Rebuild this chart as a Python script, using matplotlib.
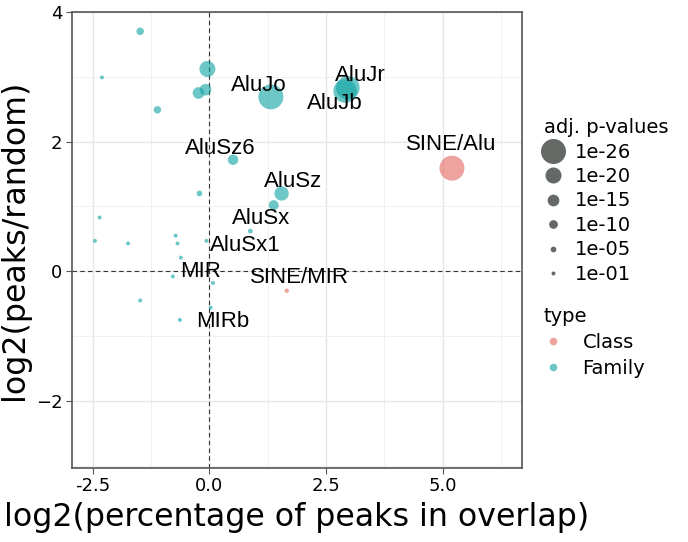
import matplotlib

matplotlib.use("Agg")
import matplotlib.pyplot as plt
import numpy as np
from matplotlib.lines import Line2D

# repeat elements: x = log2(% peaks in overlap), y = log2(peaks/random)
names = ["SINE/Alu", "SINE/MIR", "AluJo", "AluJr", "AluJb", "AluSz6", "AluSz",
         "AluSx", "AluSx1", "MIR", "MIRb",
         "", "", "", "", "", "", "", "", "", "", "", "", "", "", "", "", ""]
xs = [5.20, 1.66, 1.32, 2.97, 2.91, 0.51, 1.55, 1.38, 0.88, -0.78, -0.63,
      -1.48, -2.30, -0.04, -0.08, -0.23, -1.11, -0.21, -2.35, -2.45, -1.74,
      -0.72, -0.68, -0.06, -0.61, 0.08, -1.48, 0.03]
ys = [1.59, -0.30, 2.69, 2.83, 2.78, 1.72, 1.20, 1.02, 0.62, -0.08, -0.75,
      3.70, 2.99, 3.12, 2.80, 2.75, 2.49, 1.20, 0.83, 0.47, 0.43,
      0.55, 0.43, 0.47, 0.21, -0.18, -0.45, -0.56]
neglog_p = [26, 2, 27, 25, 25, 13, 18, 12, 3, 1, 1,
            8, 1, 20, 15, 15, 8, 5, 1, 1, 1,
            1, 1, 1, 1, 1, 1, 1]
types = ["Class", "Class"] + ["Family"] * 26

# label text centres (repelled positions)
label_pos = {
    "SINE/Alu": (5.18, 1.96), "SINE/MIR": (1.93, -0.10), "AluJo": (1.05, 2.86),
    "AluJr": (3.24, 3.02), "AluJb": (2.68, 2.58), "AluSz6": (0.24, 1.90),
    "AluSz": (1.80, 1.38), "AluSx": (1.11, 0.81), "AluSx1": (0.77, 0.40),
    "MIR": (-0.19, 0.0), "MIRb": (0.28, -0.77),
}

size_breaks = [1, 5, 10, 15, 20, 26]
size_labels = ["1e-01", "1e-05", "1e-10", "1e-15", "1e-20", "1e-26"]
size_diam_px = [4, 5.7, 8.7, 11.7, 16, 25]
type_colors = {"Class": "#E5665F", "Family": "#0EA3A3"}


def marker_area(v):
    d = np.interp(v, size_breaks, size_diam_px) * 0.72
    return d ** 2


fig = plt.figure(figsize=(6.88, 5.42), dpi=100)
ax = fig.add_axes([0.1047, 0.137, 0.654, 0.841])

ax.set_xlim(-2.94, 6.7)
ax.set_ylim(-3.03, 4.0)
ax.set_xticks([-2.5, 0, 2.5, 5.0])
ax.set_xticklabels(["-2.5", "0.0", "2.5", "5.0"])
ax.set_yticks([-2, 0, 2, 4])
ax.set_xticks([-1.25, 1.25, 3.75, 6.25], minor=True)
ax.set_yticks([-3, -1, 1, 3], minor=True)
ax.grid(True, which="major", color="#e6e6e6", linewidth=1.0)
ax.grid(True, which="minor", color="#f0f0f0", linewidth=0.7)
ax.set_axisbelow(True)
ax.tick_params(which="minor", length=0)
ax.tick_params(which="major", length=4, color="#555555", labelsize=13, labelcolor="black", pad=3)
for s in ax.spines.values():
    s.set_color("#555555")
    s.set_linewidth(1.2)

ax.axvline(0, color="#333333", linestyle=(0, (4, 3)), linewidth=0.8, zorder=1)
ax.axhline(0, color="#333333", linestyle=(0, (4, 3)), linewidth=0.8, zorder=1)

colors = [type_colors[t] for t in types]
ax.scatter(xs, ys, s=marker_area(np.array(neglog_p)), c=colors, alpha=0.6,
           linewidths=0, zorder=3)

for name, (tx, ty) in label_pos.items():
    ax.text(tx, ty, name, ha="center", va="center", fontsize=16,
            family="Liberation Sans", color="black", zorder=4)

ax.set_xlabel("log2(percentage of peaks in overlap)", fontsize=22.8, labelpad=5)
ax.set_ylabel("log2(peaks/random)", fontsize=22.8, labelpad=4)

# size legend
size_handles = [
    Line2D([], [], linestyle="none", marker="o", color="#646966",
           markersize=np.interp(b, size_breaks, size_diam_px) * 0.72, markeredgewidth=0)
    for b in size_breaks[::-1]
]
leg1 = fig.legend(size_handles, size_labels[::-1], title="adj. p-values",
                  loc="upper left", bbox_to_anchor=(0.776, 0.800), frameon=False,
                  fontsize=14, title_fontsize=14, handlelength=1.0, handletextpad=0.6,
                  labelspacing=0.28, borderpad=0, alignment="left")

type_handles = [
    Line2D([], [], linestyle="none", marker="o", color=type_colors[t], alpha=0.6,
           markersize=5.5, markeredgewidth=0)
    for t in ["Class", "Family"]
]
leg2 = fig.legend(type_handles, ["Class", "Family"], title="type",
                  loc="upper left", bbox_to_anchor=(0.776, 0.451), frameon=False,
                  fontsize=14, title_fontsize=14, handlelength=1.0, handletextpad=1.0,
                  labelspacing=0.35, borderpad=0, alignment="left")

fig.savefig("out.png", dpi=100)
